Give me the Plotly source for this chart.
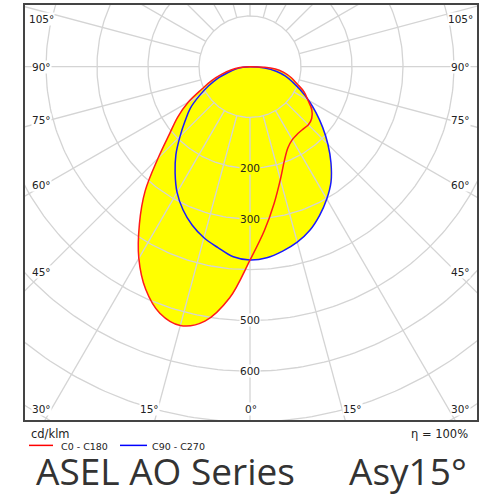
import numpy as np
import plotly.graph_objects as go

# gamma angles (deg from nadir) and intensities in cd/klm
GAMMA = list(range(0, 95, 5))
C0 = [381, 324, 273, 230, 197, 176, 166, 162, 161, 162, 158, 148, 131, 117, 98, 84, 68, 50, 0]
C180 = [381, 457, 509, 528, 517, 484, 436, 378, 320, 255, 206, 173, 140, 104, 80, 57, 38, 20, 0]
C90 = [381, 378, 369, 358, 343, 323, 301, 277, 247, 216, 186, 158, 133, 109, 89, 72, 52, 29, 0]
C270 = [381, 376, 362, 349, 332, 311, 286, 256, 226, 194, 166, 143, 115, 90, 68, 45, 30, 14, 0]

GRID_RADII = [100, 200, 300, 400, 500, 600, 700, 800, 900]
GRID_ANGLES = list(range(0, 360, 15))
RADIAL_LABELS = [200, 300, 500, 600]
SIDE_ANGLES = [105, 90, 75, 60, 45]
BOTTOM_ANGLES = [30, 15, 0, 15, 30]

# pixel layout: polar centre and scale (px per cd/klm)
CX, CY, SCALE = 250, 65, 0.51
BOX_L, BOX_R, BOX_T, BOX_B = 25, 477, 3, 420
W = H = 500


def outline(left, right):
    g = np.radians(GAMMA)
    l, r = np.array(left, float), np.array(right, float)
    x = np.concatenate([-l[::-1] * np.sin(g[::-1]), r[1:] * np.sin(g[1:])])
    y = np.concatenate([-l[::-1] * np.cos(g[::-1]), -r[1:] * np.cos(g[1:])])
    return x, y


def px_to_paper(px, py):
    return (px - BOX_L) / (BOX_R - BOX_L), (BOX_B - py) / (BOX_B - BOX_T)


red_x, red_y = outline(C180, C0)
blue_x, blue_y = outline(C270, C90)

fig = go.Figure()

# yellow fills under the grid
for xs, ys in [(red_x, red_y), (blue_x, blue_y)]:
    fig.add_trace(go.Scatter(x=xs, y=ys, mode='lines', fill='toself',
                             fillcolor='#ffff00', line=dict(width=0, shape='spline', smoothing=1),
                             hoverinfo='skip'))

# polar grid
gx, gy = [], []
t = np.linspace(0, 2 * np.pi, 361)
for rad in GRID_RADII:
    gx += list(rad * np.sin(t)) + [None]
    gy += list(-rad * np.cos(t)) + [None]
for a in GRID_ANGLES:
    ar = np.radians(a)
    gx += [100 * np.sin(ar), 1000 * np.sin(ar), None]
    gy += [-100 * np.cos(ar), -1000 * np.cos(ar), None]
fig.add_trace(go.Scatter(x=gx, y=gy, mode='lines', line=dict(color='#d4d4d4', width=1.3),
                         hoverinfo='skip'))

# the two curves
fig.add_trace(go.Scatter(x=blue_x, y=blue_y, mode='lines',
                         line=dict(color='#1a1aff', width=1.5, shape='spline', smoothing=1)))
fig.add_trace(go.Scatter(x=red_x, y=red_y, mode='lines',
                         line=dict(color='#ff1a1a', width=1.5, shape='spline', smoothing=1)))

ann = []
lab_font = dict(family='DejaVu Sans', size=10.5, color='#222')

for v in RADIAL_LABELS:
    ann.append(dict(x=0, y=-v, xref='x', yref='y', text=str(v), showarrow=False,
                    xanchor='center', yanchor='middle',
                    font=lab_font, bgcolor='#ffff00' if v < 400 else 'white', borderpad=0))


def text_at(px, py, s, font, anchor='center', bg=None):
    xp, yp = px_to_paper(px, py)
    d = dict(x=xp, y=yp, xref='paper', yref='paper', text=s, showarrow=False,
             xanchor=anchor, yanchor='middle', font=font, borderpad=0)
    if bg:
        d['bgcolor'] = bg
    ann.append(d)


side_y = [17, 65, 119, 184, 271]
for a, py in zip(SIDE_ANGLES, side_y):
    for px in (41, 460):
        text_at(px, py, f'{a}°', lab_font, bg='white')

bottom_x = [41, 149, 251, 352, 460]
for a, px in zip(BOTTOM_ANGLES, bottom_x):
    text_at(px, 409, f'{a}°', lab_font, bg='white')

small = dict(family='DejaVu Sans', size=11.5, color='#222')
legend_font = dict(family='DejaVu Sans', size=9.5, color='#222')
title_font = dict(family='Open Sans', size=37, color='#333')
text_at(30, 434, 'cd/klm', small, anchor='left')
text_at(469, 434, 'η = 100%', small, anchor='right')
text_at(60, 447, 'C0 - C180', legend_font, anchor='left')
text_at(151, 447, 'C90 - C270', legend_font, anchor='left')
text_at(35, 471, 'ASEL AO Series', title_font, anchor='left')
text_at(348, 471, 'Asy15°', title_font, anchor='left')

shapes = []
for x0, x1, c in [(29, 53, 'red'), (120, 147, 'blue')]:
    a0, b0 = px_to_paper(x0, 445.5)
    a1, _ = px_to_paper(x1, 445.5)
    shapes.append(dict(type='line', xref='paper', yref='paper', x0=a0, x1=a1, y0=b0, y1=b0,
                       line=dict(color=c, width=1.5)))

ax = dict(showgrid=False, zeroline=False, showticklabels=False, ticks='',
          showline=True, mirror=True, linecolor='#444', linewidth=2, fixedrange=True)
fig.update_layout(
    width=W, height=H, showlegend=False,
    margin=dict(l=BOX_L, r=W - BOX_R, t=BOX_T, b=H - BOX_B),
    paper_bgcolor='white', plot_bgcolor='white',
    xaxis=dict(ax, range=[(BOX_L - CX) / SCALE, (BOX_R - CX) / SCALE]),
    yaxis=dict(ax, range=[-(BOX_B - CY) / SCALE, (CY - BOX_T) / SCALE]),
    annotations=ann, shapes=shapes,
)

fig.write_html("out.html", config={'displayModeBar': False},
               post_script="document.body.style.margin='0';")
